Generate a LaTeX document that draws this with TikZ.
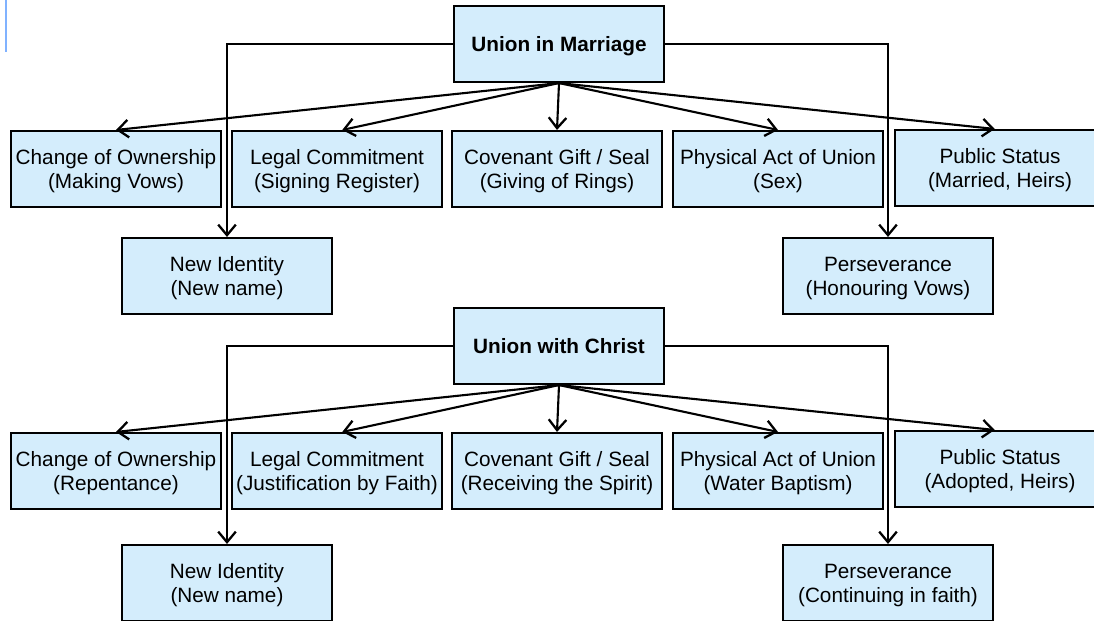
\documentclass[tikz,border=0pt]{standalone}
\usepackage{fontspec}
\setmainfont{Liberation Sans}
\usepackage{tikz}
\usetikzlibrary{arrows.meta}
\usetikzlibrary{positioning}

\definecolor{boxblue}{RGB}{212,237,252}
\definecolor{markblue}{RGB}{128,178,255}

\tikzset{
	stage/.style={rectangle, draw, line width=1.2pt, fill=boxblue, minimum width=4.2cm, minimum height=1.52cm, align=center, inner sep=1pt, text depth=-1pt, font=\fontsize{11.8}{13.8}\selectfont},
	root/.style={stage, text depth=-3pt, font=\fontsize{11.8}{13.8}\selectfont\bfseries},
	link/.style={line width=1.2pt, -{Straight Barb[length=6pt,width=10pt,line width=1.3pt]}}
}

\begin{document}
\begin{tikzpicture}[x=0.02cm, y=-0.02cm]
				\useasboundingbox (0,0) rectangle (1094,620);
				\clip (0,0) rectangle (1094,620);
				\draw[markblue, line width=1.6pt] (6,0) -- (6,52);
				
				% marriage
				\node[root] (M) at (559,44) {Union in Marriage};
				\node[stage] (MA) at (116,169) {Change of Ownership\\(Making Vows)};
				\node[stage] (MB) at (337,169) {Legal Commitment\\(Signing Register)};
				\node[stage] (MC) at (557,169) {Covenant Gift / Seal\\(Giving of Rings)};
				\node[stage] (MD) at (778,169) {Physical Act of Union\\(Sex)};
				\node[stage] (ME) at (1000,168) {Public Status\\(Married, Heirs)};
				\node[stage] (MF) at (227,276) {New Identity\\(New name)};
				\node[stage] (MG) at (888,276) {Perseverance\\(Honouring Vows)};
				
				\draw[link] (M.south) -- (MA.north);
				\draw[link] (M.south) -- ([xshift=3pt]MB.north);
				\draw[link] (M.south) -- (MC.north);
				\draw[link] (M.south) -- (MD.north);
				\draw[link] (M.south) -- ([xshift=-3pt]ME.north);
				\draw[link] (M.west) -| (MF.north);
				\draw[link] (M.east) -| (MG.north);
				
				% christ
				\node[root] (C) at (559,346) {Union with Christ};
				\node[stage] (CA) at (116,471) {Change of Ownership\\(Repentance)};
				\node[stage] (CB) at (337,471) {Legal Commitment\\(Justification by Faith)};
				\node[stage] (CC) at (557,471) {Covenant Gift / Seal\\(Receiving the Spirit)};
				\node[stage] (CD) at (778,471) {Physical Act of Union\\(Water Baptism)};
				\node[stage] (CE) at (1000,469) {Public Status\\(Adopted, Heirs)};
				\node[stage] (CF) at (227,583) {New Identity\\(New name)};
				\node[stage] (CG) at (888,583) {Perseverance\\(Continuing in faith)};
				
				\draw[link] (C.south) -- (CA.north);
				\draw[link] (C.south) -- ([xshift=3pt]CB.north);
				\draw[link] (C.south) -- (CC.north);
				\draw[link] (C.south) -- (CD.north);
				\draw[link] (C.south) -- ([xshift=-3pt]CE.north);
				\draw[link] (C.west) -| (CF.north);
				\draw[link] (C.east) -| (CG.north);
			\end{tikzpicture}
\end{document}
